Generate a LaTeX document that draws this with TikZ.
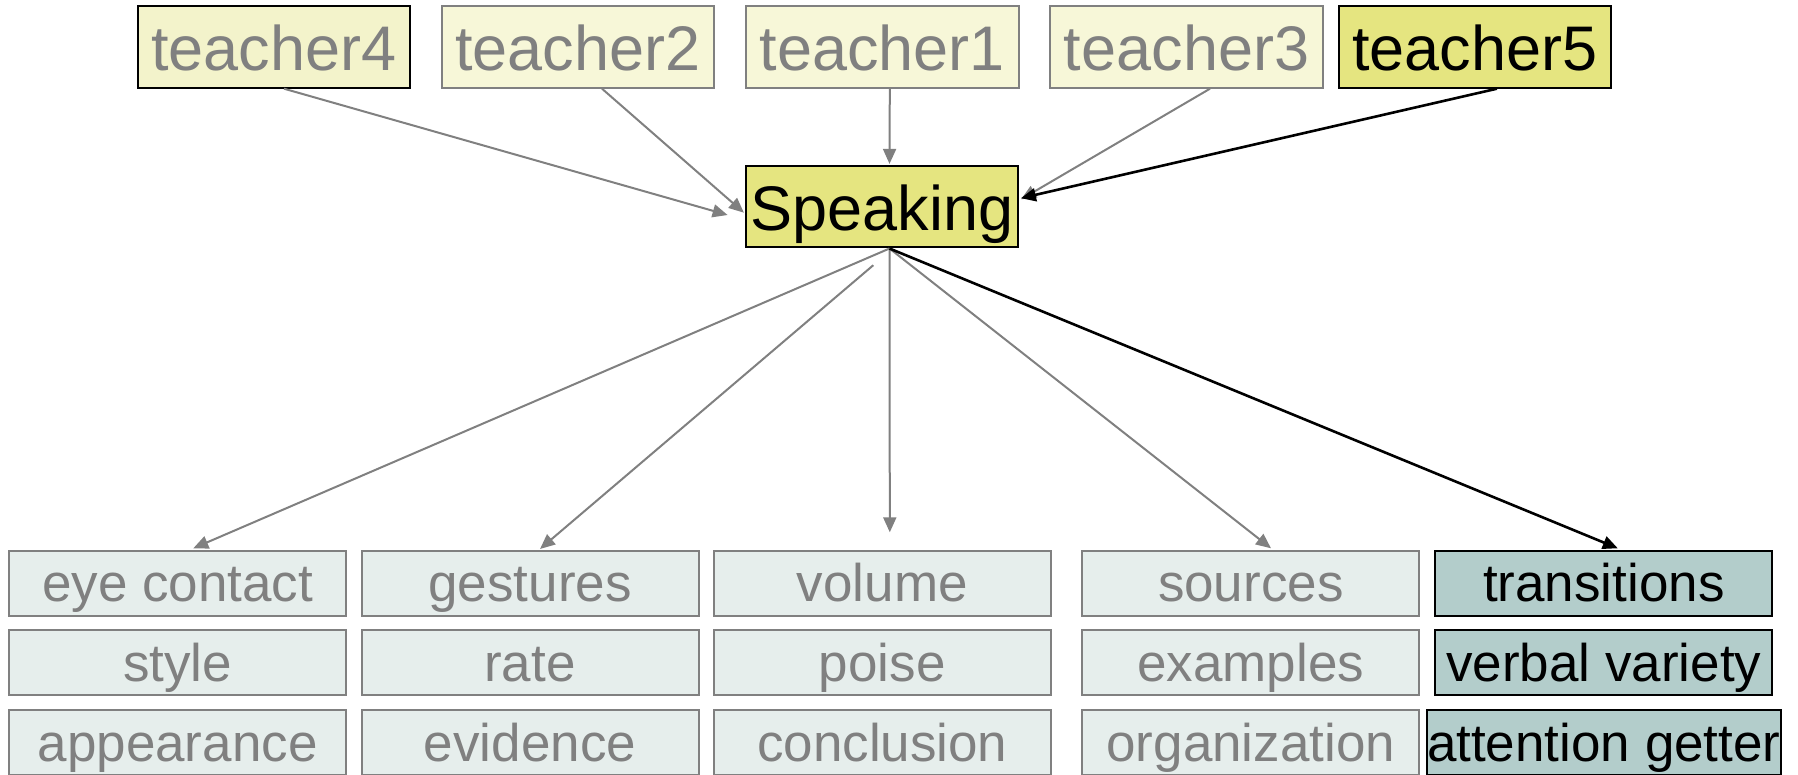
\documentclass[tikz,border=0pt]{standalone}
\usepackage{fontspec}
\setmainfont{Liberation Sans}
\usetikzlibrary{arrows.meta,calc}
\definecolor{tlight}{HTML}{F7F7D8}
\definecolor{tlightb}{HTML}{F3F3CB}
\definecolor{ystrong}{HTML}{E5E580}
\definecolor{blight}{HTML}{E6EEEC}
\definecolor{bteal}{HTML}{B3CDCB}
\definecolor{gline}{HTML}{808080}
\tikzset{
  topbox/.style={rectangle, inner sep=0pt, minimum width=136.4pt, minimum height=40.8pt,
    font=\fontsize{31.5pt}{36pt}\selectfont, text height=24pt, text depth=0pt, line width=1pt},
  tpale/.style={topbox, draw=gline, fill=tlight, text=gline},
  tpaleb/.style={topbox, draw=black, fill=tlightb, text=gline},
  tstrong/.style={topbox, draw=black, fill=ystrong, text=black},
  botbox/.style={rectangle, inner sep=0pt, minimum width=168.5pt, minimum height=32.5pt,
    font=\fontsize{26.5pt}{30pt}\selectfont, text height=18.5pt, text depth=0pt, line width=1pt},
  bpale/.style={botbox, draw=gline, fill=blight, text=gline},
  bteal/.style={botbox, draw=black, fill=bteal, text=black},
  garrow/.style={draw=gline, line width=1pt, -{Triangle[length=7.5pt,width=6.5pt]}, gline},
  karrow/.style={draw=black, line width=1.3pt, -{Triangle[length=7.5pt,width=6.5pt]}},
}
\begin{document}
\begin{tikzpicture}[x=0.5pt,y=-0.5pt]
\useasboundingbox (0,0) rectangle (1798,775);
% top row
\node[tpaleb] (t4) at (274,46.9) {teacher4};
\node[tpale] (t2) at (578,46.9) {teacher2};
\node[tpale] (t1) at (882.2,46.9) {teacher1};
\node[tpale] (t3) at (1186.5,46.9) {teacher3};
\node[tstrong] (t5) at (1474.9,46.9) {teacher5};
% centre
\node[tstrong] (sp) at (882,206.7) {Speaking};
% bottom grid
\node[bpale] (a1) at (177.6,583.2) {eye contact};
\node[bpale] (a2) at (530,583.2) {gestures};
\node[bpale] (a3) at (882.3,583.2) {volume};
\node[bpale] (a4) at (1250.8,583.2) {sources};
\node[bteal] (a5) at (1603.8,583.2) {transitions};
\node[bpale] (b1) at (177.6,662.5) {style};
\node[bpale] (b2) at (530,662.5) {rate};
\node[bpale] (b3) at (882.3,662.5) {poise};
\node[bpale] (b4) at (1250.8,662.5) {examples};
\node[bteal] (b5) at (1603.8,662.5) {verbal variety};
\node[bpale] (c1) at (177.6,742.5) {appearance};
\node[bpale] (c2) at (530,742.5) {evidence};
\node[bpale] (c3) at (882.3,742.5) {conclusion};
\node[bpale] (c4) at (1250.8,742.5) {organization};
\node[bteal] (c5) at (1603.8,742.5) {attention getter};
% incoming arrows
\draw[garrow] ($(t4.south)+(10,0)$) -- ($(sp.west)+(-17,8.3)$);
\draw[garrow] ($(t2.south)+(24,0)$) -- ($(sp.west)+(-0.7,6)$);
\draw[garrow] ($(t1.south)+(7.6,0)$) -- ($(sp.north)+(7.5,-1)$);
\draw[garrow] ($(t3.south)+(23.5,0)$) -- ($(sp.east)+(1.7,-7.4)$);
\draw[karrow] ($(t5.south)+(22,0)$) -- ($(sp.east)+(1.5,-8.5)$);
% outgoing arrows
\coordinate (spo) at ($(sp.south)+(7.5,0)$);
\coordinate (spg) at ($(sp.south)+(-8.7,16.7)$);
\draw[garrow] (spo) -- ($(a1.north)+(15.7,-1.4)$);
\draw[garrow] (spg) -- ($(a2.north)+(10,-0.7)$);
\draw[garrow] (spo) -- ($(a3.north)+(7.5,-17.4)$);
\draw[garrow] (spo) -- ($(a4.north)+(20.2,-1.4)$);
\draw[karrow] (spo) -- ($(a5.north)+(14,-1.4)$);
\end{tikzpicture}
\end{document}
